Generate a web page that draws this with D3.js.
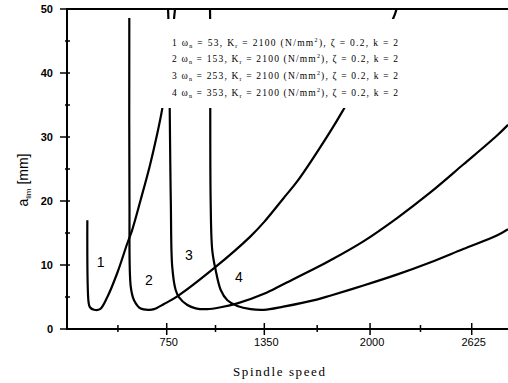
<!DOCTYPE html>
<html>
<head>
	<meta charset="utf-8">
	<title>Stability lobes</title>
	<style>
		body { margin: 0; background: #fff; }
		svg { display: block; }
		.curve { fill: none; stroke: #000; stroke-width: 2.2; stroke-linejoin: round; }
		.frame { stroke: #000; stroke-width: 2; fill: none; }
		.ylab { font-family: "Liberation Sans", Arial, sans-serif; font-size: 11px; font-weight: bold; text-anchor: end; }
		.xlab { font-family: "Liberation Sans", Arial, sans-serif; font-size: 11px; text-anchor: middle; }
		.num { font-family: "Liberation Sans", Arial, sans-serif; font-size: 14px; text-anchor: middle; }
		.legend text { font-family: "Liberation Serif", "Times New Roman", serif; font-size: 9.5px; }
	</style>
</head>
<body>
<script src="https://d3js.org/d3.v7.min.js"></script>
<script>

var width = 508;
var height = 383;

// curves: [spindle speed, a_lim (mm)]
var curve1 = [[262, 17.0], [270, 4.1], [278, 3.4], [303, 3.0], [340, 3.1], [385, 5.0], [446, 8.75],
	[508, 13.4], [538, 15.5], [590, 20.2], [647, 25.6], [690, 30.3], [721, 34.2], [764, 41.2], [801, 50], [807, 51.5]];
var curve2 = [[520, 48.6], [521, 20.2], [529, 6.6], [549, 4.5], [590, 3.2], [641, 3.0], [672, 3.1], [733, 3.9],
	[815, 5.1], [1041, 9.5], [1262, 14.4], [1348, 16.7], [1467, 20.4], [1559, 23.3], [1754, 30.8], [1830, 34.0],
	[2153, 49.2], [2172, 51.5]];
var curve3 = [[752, 51.5], [758, 50], [775, 20.2], [784, 9.7], [805, 6.1], [826, 4.95], [877, 3.75], [928, 3.23],
	[1000, 3.1], [1082, 3.4], [1184, 4.0], [1348, 5.5], [1467, 7.0], [1672, 9.6], [1754, 10.7], [1959, 13.7],
	[2164, 17.3], [2369, 21.3], [2573, 25.7], [2779, 30.2], [2848, 31.9]];
var curve4 = [[1013, 51.5], [1016, 50], [1020, 20.2], [1030, 12.3], [1051, 9.2], [1082, 6.1], [1123, 4.5],
	[1184, 3.6], [1266, 3.1], [1348, 3.0], [1467, 3.5], [1672, 4.6], [1754, 5.2], [1959, 6.8], [2164, 8.5],
	[2369, 10.4], [2573, 12.5], [2779, 14.6], [2848, 15.6]];
var curves = [curve1, curve2, curve3, curve4];

// curve number labels [speed, a_lim]
var curveNames = ["1", "2", "3", "4"];
var namePos = [[344, 9.7], [641, 6.9], [887, 10.8], [1194, 7.3]];

var legendOmega = ["53", "153", "253", "353"];

var xTicks = [750, 1350, 2000, 2625];
var xTickLabels = ["750", "1350", "2000", "2625"];
var xMinor = [450, 1050, 1675, 2310];
var yTicks = [0, 10, 20, 30, 40, 50];
var yMinor = [5, 15, 25, 35, 45];

var svg = d3.select("body").append("svg")
	.attr("width", width)
	.attr("height", height);

var x = d3.scaleLinear().domain([137, 2848]).range([67, 508]);
var y = d3.scaleLinear().domain([0, 50]).range([329, 9]);

svg.append("defs").append("clipPath").attr("id", "plot")
	.append("rect")
	.attr("x", x.range()[0]).attr("y", y(50))
	.attr("width", x.range()[1] - x.range()[0] + 2)
	.attr("height", y(0) - y(50));

var line = d3.line()
	.x(function(d) { return x(d[0]); })
	.y(function(d) { return y(d[1]); })
	.curve(d3.curveCatmullRom.alpha(0.5));

svg.append("g")
	.attr("clip-path", "url(#plot)")
	.selectAll("path")
	.data(curves)
	.enter().append("path")
	.attr("class", "curve")
	.attr("d", line);

// legend box hides the curves behind it
var legend = svg.append("g").attr("class", "legend");
legend.append("rect")
	.attr("x", 150).attr("y", 19)
	.attr("width", 262).attr("height", 89)
	.attr("fill", "#fff");

legendOmega.forEach(function(w, i) {
	var t = legend.append("text")
		.attr("x", 172)
		.attr("y", 45.5 + i * 16.8)
		.attr("textLength", 226)
		.attr("lengthAdjust", "spacing");
	t.append("tspan").text((i + 1) + "   ω");
	t.append("tspan").attr("font-size", "6px").attr("dy", 2).text("n");
	t.append("tspan").attr("dy", -2).text(" = " + w + ", K");
	t.append("tspan").attr("font-size", "6px").attr("dy", 2).text("r");
	t.append("tspan").attr("dy", -2).text(" = 2100 (N/mm");
	t.append("tspan").attr("font-size", "6px").attr("dy", -4).text("2");
	t.append("tspan").attr("dy", 4).text("), ζ = 0.2, k = 2");
});

// frame
svg.append("line").attr("class", "frame")
	.attr("x1", x.range()[0]).attr("x2", x.range()[0])
	.attr("y1", y(50)).attr("y2", y(0) + 1);
svg.append("line").attr("class", "frame")
	.attr("x1", x.range()[0] - 1).attr("x2", width)
	.attr("y1", y(0)).attr("y2", y(0));
svg.append("line").attr("class", "frame")
	.attr("x1", x.range()[0] - 1).attr("x2", width)
	.attr("y1", y(50)).attr("y2", y(50));

// y axis
var yAxis = svg.append("g");
yAxis.selectAll("line.major").data(yTicks).enter().append("line")
	.attr("x1", 60).attr("x2", 70)
	.attr("y1", function(d) { return y(d); })
	.attr("y2", function(d) { return y(d); })
	.attr("stroke", "#000").attr("stroke-width", 1.5);
yAxis.selectAll("line.minor").data(yMinor).enter().append("line")
	.attr("x1", 65).attr("x2", 70)
	.attr("y1", function(d) { return y(d); })
	.attr("y2", function(d) { return y(d); })
	.attr("stroke", "#000").attr("stroke-width", 1.5);
yAxis.selectAll("text").data(yTicks).enter().append("text")
	.attr("class", "ylab")
	.attr("x", 53)
	.attr("y", function(d) { return y(d) + 4; })
	.text(function(d) { return d; });

// x axis
var xAxis = svg.append("g");
xAxis.selectAll("line.major").data(xTicks).enter().append("line")
	.attr("x1", function(d) { return x(d); })
	.attr("x2", function(d) { return x(d); })
	.attr("y1", y(0) - 6).attr("y2", y(0) + 6)
	.attr("stroke", "#000").attr("stroke-width", 1.5);
xAxis.selectAll("line.minor").data(xMinor).enter().append("line")
	.attr("x1", function(d) { return x(d); })
	.attr("x2", function(d) { return x(d); })
	.attr("y1", y(0) - 4).attr("y2", y(0) + 3)
	.attr("stroke", "#000").attr("stroke-width", 1.5);
xAxis.selectAll("text").data(xTicks).enter().append("text")
	.attr("class", "xlab")
	.attr("x", function(d) { return x(d) + 2; })
	.attr("y", 346)
	.text(function(d, i) { return xTickLabels[i]; });

svg.append("text")
	.attr("x", 279).attr("y", 376)
	.attr("text-anchor", "middle")
	.attr("font-family", "Liberation Serif, Times New Roman, serif")
	.attr("font-size", "13px")
	.attr("textLength", 92)
	.attr("lengthAdjust", "spacing")
	.text("Spindle speed");

var yt = svg.append("text")
	.attr("transform", "translate(28,180) rotate(-90)")
	.attr("text-anchor", "middle")
	.attr("font-family", "Liberation Sans, Arial, sans-serif")
	.attr("font-size", "14px");
yt.append("tspan").text("a");
yt.append("tspan").attr("font-size", "8px").attr("dy", 3).text("lim");
yt.append("tspan").attr("dy", -3).text(" [mm]");

// curve numbers
svg.selectAll("text.num").data(curveNames).enter().append("text")
	.attr("class", "num")
	.attr("x", function(d, i) { return x(namePos[i][0]); })
	.attr("y", function(d, i) { return y(namePos[i][1]); })
	.text(function(d) { return d; });

</script>
</body>
</html>
